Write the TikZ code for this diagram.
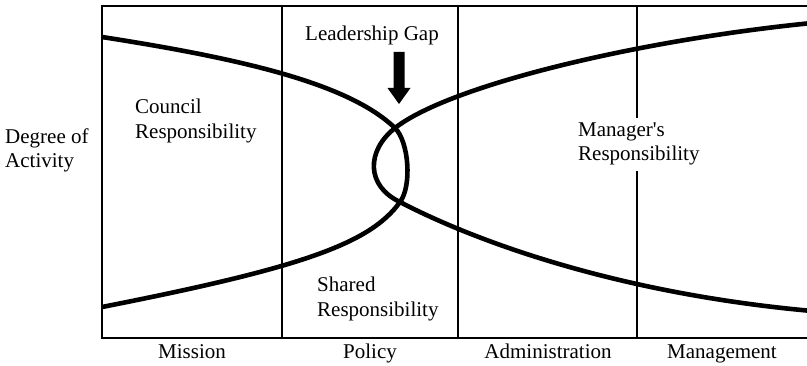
\documentclass[tikz,border=0pt]{standalone}
\usepackage{fontspec}
\setmainfont{Liberation Serif}
\begin{document}
\begin{tikzpicture}[x=1pt,y=-1pt,
  lbl/.style={font=\fontsize{21}{24}\selectfont, inner sep=0pt},
  curve/.style={line width=4.6pt},
  frame/.style={line width=2pt}]
\useasboundingbox (0,0) rectangle (807,366);
% frame and columns
\draw[frame] (812,6) -- (102,6) -- (102,338) -- (812,338);
\draw[frame] (282,6) -- (282,338);
\draw[frame] (458,6) -- (458,338);
\draw[frame] (637,6) -- (637,338);
% curves
\draw[curve] (102,37) .. controls (250,60) and (350,85) .. (395,128)
  .. controls (409,142) and (412,186) .. (400,202)
  .. controls (370,244) and (300,268) .. (102,307);
\draw[curve] (812,23) .. controls (640,40) and (450,85) .. (395,128)
  .. controls (366,151) and (366,186) .. (400,202)
  .. controls (438,222) and (580,290) .. (812,311);
% arrow
\fill (393.5,52) -- (404.5,52) -- (404.5,88) -- (410.5,88) -- (399,104) -- (387.5,88) -- (393.5,88) -- cycle;
% labels
\node[lbl, anchor=base] (gap) at (372,41) {Leadership Gap};
\node[lbl, anchor=base west] (c1) at (135,114) {Council};
\node[lbl, anchor=base west] (c2) at (135,139) {Responsibility};
\node[lbl, anchor=base west] (d1) at (5,144) {Degree of};
\node[lbl, anchor=base west] (d2) at (5,168) {Activity};
\node[lbl, anchor=base west, fill=white, inner ysep=5pt] (m1) at (578,137) {Manager\textquotesingle s};
\node[lbl, anchor=base west, fill=white, inner ysep=5pt] (m2) at (578,161) {Responsibility};
\node[lbl, anchor=base west] (s1) at (317,292) {Shared};
\node[lbl, anchor=base west] (s2) at (317,317) {Responsibility};
\node[lbl, anchor=base] (x1) at (192,359) {Mission};
\node[lbl, anchor=base] (x2) at (370,359) {Policy};
\node[lbl, anchor=base] (x3) at (548,359) {Administration};
\node[lbl, anchor=base] (x4) at (722,359) {Management};
\end{tikzpicture}
\end{document}
